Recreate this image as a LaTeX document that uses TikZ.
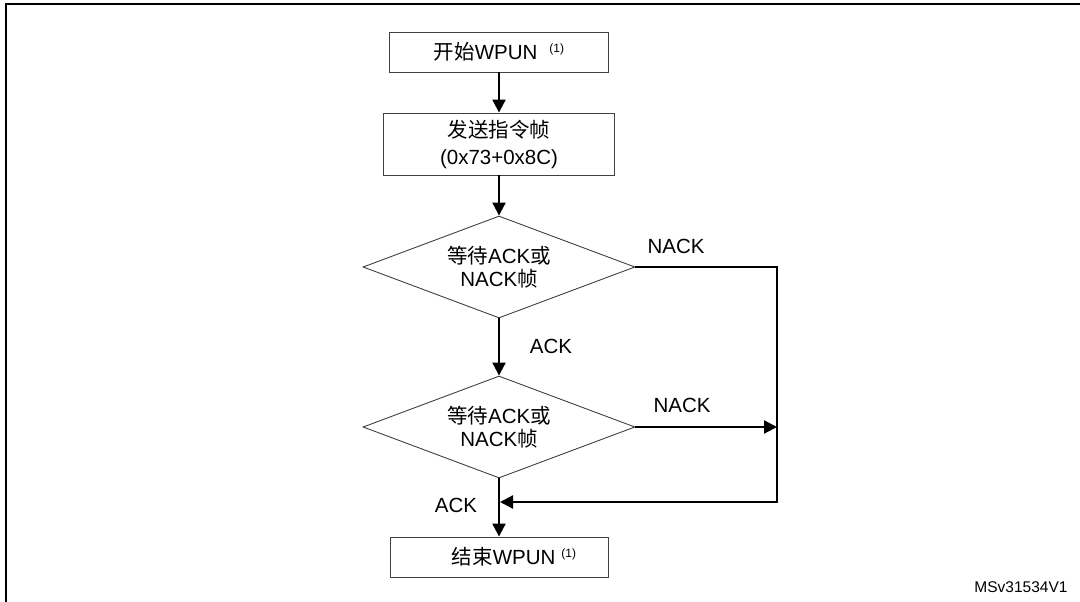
\documentclass[tikz,border=0pt]{standalone}
\usepackage{fontspec}
\setmainfont{Liberation Sans}
\newfontfamily\cjk{Noto Sans CJK SC}
\usetikzlibrary{arrows.meta,shapes.geometric}

\newcommand{\zh}[1]{{\cjk #1}}
\newcommand{\fnref}{{\fontsize{12}{12}\selectfont\raisebox{7pt}{(1)}}}

\begin{document}
\begin{tikzpicture}[x=1pt,y=-1pt,
	font=\fontsize{20.5}{24}\selectfont,
	stepbox/.style={draw=black!75,line width=0.9pt,inner sep=0pt,align=center},
	decision/.style={diamond,aspect=2.667,draw=black!75,line width=0.9pt,minimum width=272pt,minimum height=102pt,inner sep=0pt,align=center,font=\fontsize{20.5}{23}\selectfont},
	flow/.style={line width=2.2pt,-{Triangle[length=13pt,width=13pt]}}]
	
	\useasboundingbox (0,0) rectangle (1080,602);
	
	% frame
	\draw[line width=2pt] (5.5,602) -- (5.5,4.3) -- (1080,4.3);
	
	% start
	\node[stepbox,minimum width=219pt,minimum height=40pt] (box1) at (499,52) {\zh{开始}WPUN\hspace{12pt}\fnref};
	
	% send command frame
	\node[stepbox,minimum width=231pt,minimum height=62pt,font=\fontsize{20.5}{27}\selectfont] (box2) at (499,144) {\zh{发送指令帧}\\(0x73+0x8C)};
	
	% waiting for ACK / NACK
	\node[decision] (dec1) at (499,267) {\zh{等待}ACK\zh{或}\\NACK\zh{帧}};
	\node[decision] (dec2) at (499,427) {\zh{等待}ACK\zh{或}\\NACK\zh{帧}};
	
	% end
	\node[stepbox,minimum width=218pt,minimum height=40pt] (box3) at (499,557) {\hspace*{30pt}\zh{结束}WPUN\hspace{6pt}\fnref};
	
	\coordinate (corner1) at (777,267);
	\coordinate (corner2) at (777,502);
	\coordinate (merge) at (500,502);
	
	\draw[flow] (box1) -- (box2);
	\draw[flow] (box2) -- (dec1);
	\draw[flow] (dec1) -- (dec2);
	\draw[flow] (dec2) -- (box3);
	
	\draw[flow] (dec1.east) -- (corner1) -- (corner2) -- (merge);
	\draw[flow] (dec2.east) -- (dec2.east -| corner1);
	
	\node (nack1) at (676,246) {NACK};
	\node (ack1) at (551,346) {ACK};
	\node (nack2) at (682,405) {NACK};
	\node (ack2) at (456,505) {ACK};
	
	\node[anchor=east,font=\fontsize{15.5}{16}\selectfont] (ref) at (1071,587) {MSv31534V1};
	
\end{tikzpicture}
\end{document}
